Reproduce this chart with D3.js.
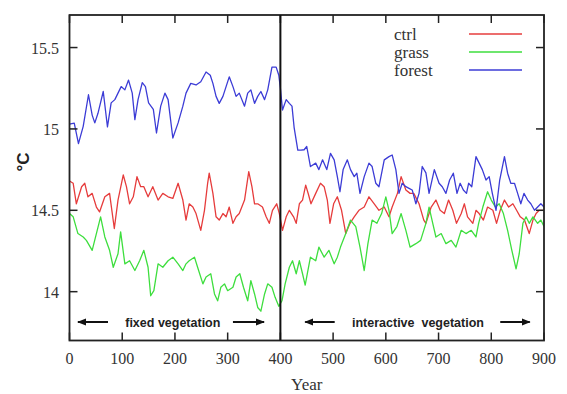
<!DOCTYPE html>
<html><head><meta charset="utf-8">
<script src="https://cdn.jsdelivr.net/npm/d3@7"></script>
<style>body{margin:0;background:#fff}svg{display:block}</style>
</head><body>
<script>
const xTicks=[0,100,200,300,400,500,600,700,800,900];
const yTicks=[14,14.5,15,15.5];
const seriesNames=["ctrl","grass","forest"];
const seriesColors=["#e63c3c","#3ede3e","#3c3cd6"];
const forestYears=[0,9,17,26,36,43,48,54,64,72,79,86,92,98,105,112,119,124,130,138,144,150,159,165,173,181,187,196,206,215,221,230,240,249,259,267,272,278,284,291,297,303,310,316,322,332,338,344,351,357,363,370,376,384,392,397,400,404,411,417,422,426,433,439,445,450,457,467,473,480,488,495,502,508,513,519,527,533,540,545,551,559,568,574,581,587,597,606,612,619,625,631,638,644,650,657,663,669,676,682,692,701,707,714,721,728,735,741,747,753,757,763,771,777,783,790,796,802,809,816,825,831,837,844,850,856,862,869,875,882,888,894,900];
const forestVals=[15.03,15.035,14.91,15.016,15.21,15.085,15.037,15.096,15.23,15.013,15.16,15.18,15.22,15.26,15.24,15.30,15.22,15.057,15.18,15.285,15.26,15.16,15.12,14.975,15.14,15.22,15.18,14.944,15.037,15.14,15.22,15.28,15.27,15.29,15.35,15.33,15.28,15.20,15.157,15.20,15.26,15.32,15.26,15.20,15.22,15.14,15.22,15.24,15.157,15.20,15.23,15.18,15.24,15.38,15.38,15.33,15.25,15.116,15.18,15.157,15.14,15.01,14.87,14.87,14.872,14.892,14.769,14.79,14.75,14.81,14.75,14.85,14.81,14.707,14.614,14.75,14.81,14.75,14.707,14.728,14.604,14.707,14.79,14.769,14.666,14.645,14.81,14.83,14.84,14.75,14.604,14.666,14.645,14.635,14.625,14.54,14.604,14.769,14.73,14.604,14.75,14.666,14.645,14.604,14.686,14.728,14.604,14.666,14.625,14.604,14.666,14.645,14.83,14.79,14.75,14.686,14.707,14.604,14.50,14.686,14.83,14.728,14.666,14.666,14.604,14.54,14.604,14.563,14.54,14.50,14.52,14.54,14.52];
const ctrlYears=[0,7,13,23,29,35,43,51,57,67,76,85,92,102,108,114,121,128,135,141,149,158,168,177,187,196,206,215,221,227,234,240,249,256,262,265,272,278,284,291,297,303,310,316,322,332,340,346,351,357,366,373,379,385,393,398,404,411,417,425,430,436,442,448,453,458,467,476,483,489,494,501,508,516,524,532,540,549,559,568,578,587,597,606,612,622,629,638,646,653,663,672,676,686,695,703,711,719,727,734,743,749,755,765,771,777,785,793,803,810,817,825,833,841,848,855,863,872,879,885,891,900];
const ctrlVals=[14.68,14.666,14.54,14.645,14.666,14.583,14.604,14.52,14.49,14.583,14.604,14.388,14.563,14.717,14.645,14.54,14.583,14.707,14.645,14.645,14.583,14.645,14.563,14.604,14.583,14.573,14.666,14.563,14.44,14.54,14.52,14.48,14.377,14.50,14.666,14.728,14.604,14.46,14.44,14.48,14.46,14.52,14.42,14.46,14.48,14.563,14.738,14.645,14.54,14.54,14.52,14.46,14.42,14.50,14.54,14.48,14.377,14.46,14.50,14.46,14.42,14.54,14.563,14.655,14.60,14.54,14.604,14.666,14.645,14.563,14.42,14.54,14.583,14.50,14.357,14.42,14.46,14.50,14.52,14.583,14.54,14.50,14.52,14.46,14.52,14.604,14.707,14.625,14.604,14.604,14.54,14.44,14.42,14.52,14.563,14.50,14.48,14.563,14.50,14.42,14.48,14.54,14.46,14.42,14.50,14.48,14.44,14.52,14.50,14.42,14.50,14.563,14.52,14.54,14.50,14.46,14.44,14.357,14.44,14.48,14.50,14.50];
const grassYears=[0,7,16,26,32,43,51,59,67,76,83,92,97,105,114,124,133,141,149,154,160,168,177,187,196,206,215,221,227,237,243,253,259,268,275,281,287,294,300,310,316,323,330,338,344,351,357,363,370,376,384,390,397,403,409,417,423,430,436,442,447,451,457,467,473,483,492,502,508,514,524,533,543,551,559,566,574,583,592,600,606,612,621,629,638,646,657,666,676,682,689,695,705,714,724,733,743,752,762,771,776,784,793,800,808,815,823,831,839,847,853,860,866,872,879,888,894,900];
const grassVals=[14.48,14.46,14.357,14.336,14.315,14.254,14.357,14.46,14.336,14.254,14.15,14.233,14.367,14.171,14.19,14.13,14.19,14.254,14.15,13.975,14.006,14.171,14.15,14.19,14.212,14.171,14.13,14.171,14.19,14.212,14.15,14.048,14.09,14.11,13.986,13.944,14.027,14.048,14.006,14.027,14.09,14.11,14.027,13.944,14.068,13.986,13.903,13.88,13.986,14.048,14.027,13.965,13.91,13.944,14.048,14.15,14.19,14.11,14.19,14.11,14.04,14.11,14.212,14.19,14.274,14.212,14.254,14.171,14.212,14.274,14.357,14.44,14.40,14.274,14.13,14.295,14.44,14.42,14.48,14.583,14.50,14.357,14.40,14.48,14.377,14.274,14.295,14.315,14.42,14.52,14.42,14.336,14.357,14.295,14.315,14.274,14.377,14.357,14.377,14.336,14.42,14.52,14.614,14.563,14.52,14.54,14.48,14.377,14.254,14.14,14.233,14.42,14.46,14.42,14.46,14.42,14.44,14.40];

const W=567,H=394;
const m={l:69.5,r:544,t:15,b:340.5};
const svg=d3.select("body").append("svg").attr("width",W).attr("height",H);
const x=d3.scaleLinear().domain([0,900]).range([m.l,m.r]);
const y=d3.scaleLinear().domain([13.7,15.7]).range([m.b,m.t]);
const serif="'Liberation Serif','Times New Roman',serif";
const sans="'Liberation Sans',Arial,sans-serif";

const data=[
 {name:seriesNames[0],years:ctrlYears,vals:ctrlVals,color:seriesColors[0]},
 {name:seriesNames[1],years:grassYears,vals:grassVals,color:seriesColors[1]},
 {name:seriesNames[2],years:forestYears,vals:forestVals,color:seriesColors[2]}
];
const line=d3.line().x(d=>x(d[0])).y(d=>y(d[1]));
svg.append("clipPath").attr("id","c").append("rect").attr("x",m.l).attr("y",m.t).attr("width",m.r-m.l).attr("height",m.b-m.t);
const g=svg.append("g").attr("clip-path","url(#c)");
data.forEach(s=>{
  g.append("path").datum(s.years.map((yr,i)=>[yr,s.vals[i]])).attr("d",line)
   .attr("fill","none").attr("stroke",s.color).attr("stroke-width",1.3).attr("stroke-linejoin","round");
});

// axes: inward ticks on all four sides
const tl=8;
const ax=svg.append("g").attr("stroke","#222").attr("stroke-width",1.5);
xTicks.forEach(t=>{
  ax.append("line").attr("x1",x(t)).attr("x2",x(t)).attr("y1",m.b).attr("y2",m.b-tl);
  ax.append("line").attr("x1",x(t)).attr("x2",x(t)).attr("y1",m.t).attr("y2",m.t+tl);
});
yTicks.forEach(t=>{
  ax.append("line").attr("x1",m.l).attr("x2",m.l+tl).attr("y1",y(t)).attr("y2",y(t));
  ax.append("line").attr("x1",m.r).attr("x2",m.r-tl).attr("y1",y(t)).attr("y2",y(t));
});
svg.append("rect").attr("x",m.l).attr("y",m.t).attr("width",m.r-m.l).attr("height",m.b-m.t)
  .attr("fill","none").attr("stroke","#222").attr("stroke-width",1.8);
svg.append("line").attr("x1",x(400)).attr("x2",x(400)).attr("y1",m.t).attr("y2",m.b).attr("stroke","#111").attr("stroke-width",2);

svg.selectAll(".xt").data(xTicks).enter().append("text").attr("x",d=>x(d)).attr("y",364)
  .attr("text-anchor","middle").attr("font-family",serif).attr("font-size",16).attr("fill","#333").text(d=>d);
svg.selectAll(".yt").data(yTicks).enter().append("text").attr("x",59).attr("y",d=>y(d)+6)
  .attr("text-anchor","end").attr("font-family",serif).attr("font-size",16).attr("fill","#333").text(d=>d);
svg.append("text").attr("x",x(450)).attr("y",390).attr("text-anchor","middle").attr("font-family",serif).attr("font-size",17).attr("fill","#333").text("Year");
svg.append("text").attr("transform","translate(29,162) rotate(-90)").attr("text-anchor","middle").attr("font-family",sans).attr("font-weight","bold").attr("font-size",17).attr("fill","#222").text("°C");

// legend
data.forEach((s,i)=>{
  const ly=34+i*18;
  svg.append("text").attr("x",394).attr("y",ly+6).attr("font-family",serif).attr("font-size",17).attr("fill","#333").text(s.name);
  svg.append("line").attr("x1",469).attr("x2",522).attr("y1",ly).attr("y2",ly).attr("stroke",s.color).attr("stroke-width",1.3);
});

// annotations
const defs=svg.append("defs");
defs.append("marker").attr("id","ah").attr("viewBox","0 0 10 10").attr("refX",9).attr("refY",5)
  .attr("markerWidth",4.5).attr("markerHeight",4.5).attr("orient","auto")
  .append("path").attr("d","M0,1 L10,5 L0,9 Z").attr("fill","#111");
function arrow(x1,x2,yy){
  svg.append("line").attr("x1",x(x1)).attr("x2",x(x2)).attr("y1",yy).attr("y2",yy)
    .attr("stroke","#111").attr("stroke-width",2).attr("marker-end","url(#ah)");
}
const ay=322;
arrow(73,16,ay); arrow(310,369,ay); arrow(503,447,ay); arrow(817,873,ay);
svg.append("text").attr("x",x(196)).attr("y",ay+4.5).attr("text-anchor","middle").attr("font-family",sans)
  .attr("font-weight","bold").attr("font-size",12.5).attr("fill","#222").text("fixed vegetation");
svg.append("text").attr("x",x(661)).attr("y",ay+4.5).attr("text-anchor","middle").attr("font-family",sans)
  .attr("font-weight","bold").attr("font-size",12.5).attr("fill","#222").attr("xml:space","preserve").text("interactive  vegetation");
</script>
</body></html>
